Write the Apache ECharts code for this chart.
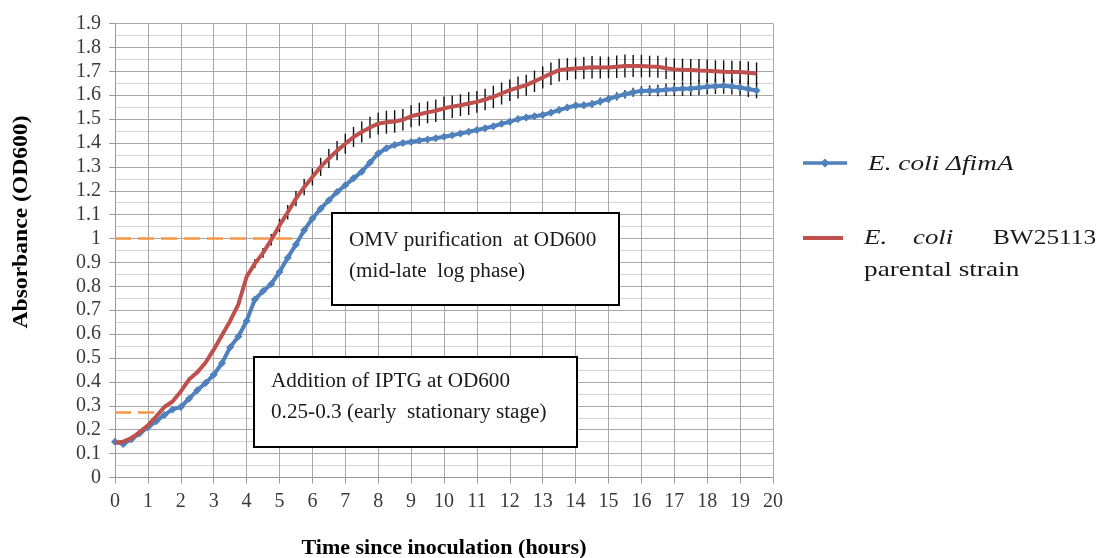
<!DOCTYPE html>
<html>
<head>
<meta charset="utf-8">
<script src="https://cdn.jsdelivr.net/npm/echarts@6/dist/echarts.min.js"></script>
<style>
  html, body { margin: 0; padding: 0; background: #ffffff; }
  #growth_chart { width: 1099px; height: 558px; }
</style>
</head>
<body>
<div id="growth_chart"></div>
<script>
// time points (hours since inoculation)
const hours = [
  0, 0.25, 0.5, 0.75,
  1, 1.25, 1.5, 1.75,
  2, 2.25, 2.5, 2.75,
  3, 3.25, 3.5, 3.75,
  4, 4.25, 4.5, 4.75,
  5, 5.25, 5.5, 5.75,
  6, 6.25, 6.5, 6.75,
  7, 7.25, 7.5, 7.75,
  8, 8.25, 8.5, 8.75,
  9, 9.25, 9.5, 9.75,
  10, 10.25, 10.5, 10.75,
  11, 11.25, 11.5, 11.75,
  12, 12.25, 12.5, 12.75,
  13, 13.25, 13.5, 13.75,
  14, 14.25, 14.5, 14.75,
  15, 15.25, 15.5, 15.75,
  16, 16.25, 16.5, 16.75,
  17, 17.25, 17.5, 17.75,
  18, 18.25, 18.5, 18.75,
  19, 19.25, 19.5
];

// E. coli BW25113 parental strain (OD600) and its error
const parentalOD = [
  0.145, 0.150, 0.165, 0.190,
  0.218, 0.255, 0.295, 0.318,
  0.360, 0.410, 0.440, 0.480,
  0.535, 0.595, 0.655, 0.725,
  0.840, 0.895, 0.940, 0.995,
  1.055, 1.110, 1.167, 1.215,
  1.258, 1.300, 1.335, 1.368,
  1.397, 1.425, 1.446, 1.465,
  1.481, 1.487, 1.490, 1.497,
  1.512, 1.520, 1.528, 1.535,
  1.545, 1.552, 1.558, 1.565,
  1.572, 1.582, 1.593, 1.607,
  1.621, 1.632, 1.642, 1.658,
  1.674, 1.690, 1.705, 1.709,
  1.712, 1.714, 1.717, 1.716,
  1.716, 1.719, 1.722, 1.722,
  1.722, 1.720, 1.719, 1.713,
  1.708, 1.706, 1.705, 1.703,
  1.702, 1.700, 1.698, 1.697,
  1.697, 1.694, 1.691
];
const parentalErr = [
  0.005, 0.005, 0.005, 0.005,
  0.006, 0.006, 0.006, 0.006,
  0.008, 0.008, 0.008, 0.008,
  0.010, 0.012, 0.012, 0.015,
  0.015, 0.018, 0.020, 0.024,
  0.028, 0.030, 0.032, 0.034,
  0.036, 0.038, 0.040, 0.040,
  0.042, 0.042, 0.044, 0.045,
  0.046, 0.048, 0.047, 0.045,
  0.046, 0.048, 0.046, 0.047,
  0.049, 0.047, 0.046, 0.048,
  0.046, 0.045, 0.047, 0.046,
  0.045, 0.046, 0.044, 0.045,
  0.046, 0.047, 0.048, 0.046,
  0.045, 0.046, 0.047, 0.046,
  0.045, 0.047, 0.048, 0.046,
  0.047, 0.045, 0.046, 0.045,
  0.046, 0.047, 0.046, 0.048,
  0.047, 0.046, 0.048, 0.047,
  0.046, 0.047, 0.046
];

// E. coli ΔfimA (OD600) and its error
const fimAOD = [
  0.150, 0.140, 0.160, 0.185,
  0.210, 0.235, 0.262, 0.285,
  0.295, 0.330, 0.365, 0.395,
  0.430, 0.478, 0.545, 0.590,
  0.655, 0.745, 0.780, 0.810,
  0.860, 0.920, 0.975, 1.035,
  1.084, 1.125, 1.160, 1.195,
  1.223, 1.252, 1.280, 1.318,
  1.356, 1.378, 1.392, 1.400,
  1.404, 1.410, 1.415, 1.420,
  1.426, 1.432, 1.440, 1.447,
  1.454, 1.462, 1.470, 1.480,
  1.489, 1.500, 1.507, 1.512,
  1.517, 1.527, 1.538, 1.548,
  1.557, 1.558, 1.563, 1.574,
  1.584, 1.595, 1.604, 1.612,
  1.618, 1.619, 1.620, 1.623,
  1.625, 1.627, 1.628, 1.631,
  1.635, 1.637, 1.639, 1.636,
  1.632, 1.626, 1.620
];
const fimAErr = [
  0.005, 0.005, 0.005, 0.005,
  0.005, 0.006, 0.006, 0.006,
  0.006, 0.006, 0.007, 0.007,
  0.007, 0.008, 0.008, 0.008,
  0.008, 0.008, 0.009, 0.009,
  0.009, 0.009, 0.010, 0.010,
  0.010, 0.010, 0.010, 0.010,
  0.010, 0.010, 0.010, 0.010,
  0.010, 0.011, 0.011, 0.011,
  0.011, 0.011, 0.012, 0.012,
  0.012, 0.012, 0.012, 0.012,
  0.012, 0.013, 0.013, 0.013,
  0.013, 0.013, 0.013, 0.014,
  0.014, 0.014, 0.014, 0.014,
  0.015, 0.015, 0.015, 0.016,
  0.016, 0.017, 0.018, 0.019,
  0.020, 0.022, 0.024, 0.026,
  0.028, 0.030, 0.030, 0.031,
  0.032, 0.032, 0.033, 0.033,
  0.034, 0.034, 0.033
];

// orange guide lines: [hour, OD]
const omvGuide = [[0, 1.0], [5.6, 1.0]];
const iptgGuide = [[0, 0.275], [1.2, 0.275]];

const blue = '#4F81BD';
const red = '#C0504D';
const serif = '"Liberation Serif", "DejaVu Serif", serif';

function pairs(values) {
  return hours.map((h, i) => [h, values[i]]);
}

function errorBars(name, values, errs) {
  return {
    name: name,
    type: 'custom',
    silent: true,
    z: 1,
    data: hours.map((h, i) => [h, values[i] - errs[i], values[i] + errs[i]]),
    encode: { x: 0, y: [1, 2] },
    renderItem: function (params, api) {
      const lo = api.coord([api.value(0), api.value(1)]);
      const hi = api.coord([api.value(0), api.value(2)]);
      return {
        type: 'line',
        shape: { x1: lo[0], y1: lo[1], x2: hi[0], y2: hi[1] },
        style: { stroke: '#111', lineWidth: 1.4 }
      };
    }
  };
}

// plain text for the annotation boxes and legend, widened a little like the original
function label(text, x, y, font, scaleX) {
  return {
    type: 'text', z: 101, x: x, y: y, scaleX: scaleX || 1,
    style: { text: text, font: font, fill: '#1a1a1a', verticalAlign: 'middle' }
  };
}

const chart = echarts.init(document.getElementById('growth_chart'));

const option = {
  animation: false,
  backgroundColor: '#ffffff',
  grid: { left: 115, right: 326, top: 23.5, bottom: 80.5, containLabel: false, outerBoundsMode: 'none' },
  xAxis: {
    type: 'value',
    min: 0,
    max: 20,
    interval: 1,
    name: 'Time since inoculation (hours)',
    nameLocation: 'middle',
    nameGap: 60,
    nameTextStyle: { fontFamily: serif, fontWeight: 'bold', fontSize: 22, color: '#000' },
    axisLine: { lineStyle: { color: '#9a9a9a' } },
    axisTick: { show: true, length: 6, lineStyle: { color: '#9a9a9a' } },
    axisLabel: { fontFamily: serif, fontSize: 20, color: '#3a3a3a', margin: 14 },
    splitLine: { show: true, lineStyle: { color: '#a8a8a8', width: 1 } }
  },
  yAxis: {
    type: 'value',
    min: 0,
    max: 1.9,
    interval: 0.1,
    axisLine: { show: true, lineStyle: { color: '#9a9a9a' } },
    axisTick: { show: true, length: 6, lineStyle: { color: '#9a9a9a' } },
    axisLabel: { fontFamily: serif, fontSize: 20, color: '#3a3a3a', margin: 14 },
    splitLine: { show: true, lineStyle: { color: '#a8a8a8', width: 1 } },
    minorTick: { show: false, splitNumber: 2 },
    minorSplitLine: { show: true, lineStyle: { color: '#d4d4d4', width: 1 } }
  },
  series: [
    errorBars('fimA error', fimAOD, fimAErr),
    errorBars('parental error', parentalOD, parentalErr),
    {
      name: 'E. coli ΔfimA',
      type: 'line',
      z: 3,
      data: pairs(fimAOD),
      symbol: 'diamond',
      symbolSize: 8,
      itemStyle: { color: blue },
      lineStyle: { color: blue, width: 4 },
      markLine: {
        silent: true,
        symbol: 'none',
        label: { show: false },
        lineStyle: { color: '#F79646', type: [16, 7], width: 2.5 },
        data: [
          [{ coord: omvGuide[0] }, { coord: omvGuide[1] }],
          [{ coord: iptgGuide[0] }, { coord: iptgGuide[1] }]
        ]
      }
    },
    {
      name: 'E. coli BW25113 parental strain',
      type: 'line',
      z: 4,
      data: pairs(parentalOD),
      symbol: 'none',
      itemStyle: { color: red },
      lineStyle: { color: red, width: 4 }
    }
  ],
  graphic: [
    // y axis title
    {
      type: 'text',
      x: 22, y: 222,
      rotation: Math.PI / 2,
      scaleX: 1.18,
      style: {
        text: 'Absorbance (OD600)',
        font: 'bold 20px ' + serif,
        fill: '#000',
        align: 'center',
        verticalAlign: 'middle'
      }
    },
    // OMV annotation box
    {
      type: 'rect',
      z: 100,
      shape: { x: 332, y: 213, width: 287, height: 92 },
      style: { fill: '#ffffff', stroke: '#000000', lineWidth: 2 }
    },
    label('OMV purification  at OD600', 349, 241, '20px ' + serif, 1.06),
    label('(mid-late  log phase)', 349, 272, '20px ' + serif, 1.06),
    // IPTG annotation box
    {
      type: 'rect',
      z: 100,
      shape: { x: 254, y: 357, width: 323, height: 90 },
      style: { fill: '#ffffff', stroke: '#000000', lineWidth: 2 }
    },
    label('Addition of IPTG at OD600', 271, 382, '20px ' + serif, 1.06),
    label('0.25-0.3 (early  stationary stage)', 271, 413, '20px ' + serif, 1.06),
    // legend
    {
      type: 'line',
      shape: { x1: 803, y1: 163, x2: 847, y2: 163 },
      style: { stroke: blue, lineWidth: 3.5 }
    },
    {
      type: 'polygon',
      shape: { points: [[825, 158.5], [829.5, 163], [825, 167.5], [820.5, 163]] },
      style: { fill: blue }
    },
    label('E. coli ΔfimA', 868, 164, 'italic 22px ' + serif, 1.24),
    {
      type: 'line',
      shape: { x1: 803, y1: 238, x2: 843, y2: 238 },
      style: { stroke: red, lineWidth: 4 }
    },
    label('E.', 864, 238, 'italic 22px ' + serif, 1.22),
    label('coli', 913, 238, 'italic 22px ' + serif, 1.22),
    label('BW25113', 993, 238, '22px ' + serif, 1.15),
    label('parental strain', 864, 270, '22px ' + serif, 1.24)
  ]
};

chart.setOption(option);
</script>
</body>
</html>
